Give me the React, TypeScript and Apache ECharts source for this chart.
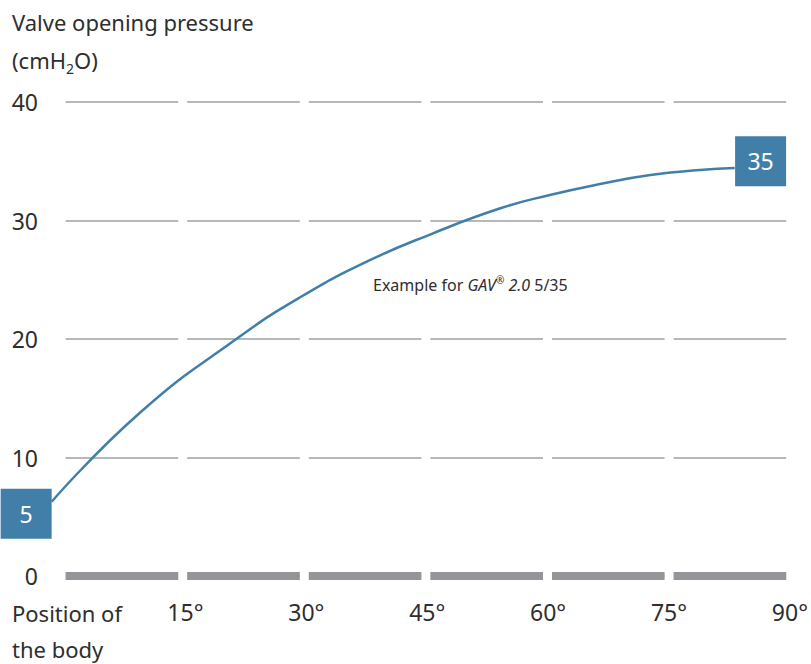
import React, { useEffect, useRef } from 'react';
import * as echarts from 'echarts';

const FONT = "'Noto Sans', sans-serif";
const BLUE = '#417fa8';
const TEXT = '#2e2e2e';
const GRID = '#b8b8b8';
const BASE = '#939598';

// axis ranges
const yMin = 0;
const yMax = 40;
const yStep = 10;
const xMin = 0;
const xMax = 90;
const xStep = 15;
// wider (hidden) angle range on the same scale, so the marks may run past 0° and 90°
const xMinWide = -7.5;
const xMaxWide = 92.5;

// curve (angle in degrees, pressure in cmH2O)
const curveAngle = [-1.15, 9.7, 21.8, 29.5, 37.7, 45.9, 54.2, 60.3, 66.5, 72.7, 78.8, 83.1];
const curvePressure = [6.27, 13.76, 20.08, 23.52, 26.52, 28.92, 31.03, 32.15, 33.08, 33.84, 34.26, 34.43];

// end-value boxes
const boxAngle = [-4.3, 86.3];
const boxPressure = [5, 35];

const yTitleLines = ['Valve opening pressure', '(cmH{sub|2}O)'];
const xTitleLines = ['Position of', 'the body'];
const noteText = 'Example for {i|GAV}{sup|®}{i| 2.0} 5/35';

export default function App() {
  const ref = useRef<HTMLDivElement>(null);

  useEffect(() => {
    if (!ref.current) return;
    const chart = echarts.init(ref.current, null, { renderer: 'svg' });
    const dash = [112.6, 9];
    const dashOffset = 112.6 + 4.5;

    const left = 61;
    const right = 20.4;
    const plotW = 811 - left - right;
    const pxPerDeg = plotW / (xMax - xMin);
    const leftWide = left + (xMinWide - xMin) * pxPerDeg;
    const rightWide = 811 - (left + (xMaxWide - xMin) * pxPerDeg);

    chart.setOption({
      animation: false,
      backgroundColor: '#ffffff',
      grid: [
        { left, right, top: 102, bottom: 88 },
        { left: leftWide, right: rightWide, top: 102, bottom: 88 },
      ],
      xAxis: [
        {
          type: 'value',
          gridIndex: 0,
          min: xMin,
          max: xMax,
          interval: xStep,
          axisLine: {
            show: true,
            onZero: false,
            lineStyle: { color: BASE, width: 8, type: dash, dashOffset, cap: 'butt' },
          },
          axisTick: { show: false },
          splitLine: { show: false },
          axisLabel: {
            formatter: (v: number) => (v === 0 ? '' : v + '°'),
            fontSize: 23,
            color: TEXT,
            fontFamily: FONT,
            margin: 24,
            padding: [0, 0, 0, 7],
          },
        },
        {
          type: 'value',
          gridIndex: 1,
          min: xMinWide,
          max: xMaxWide,
          show: false,
        },
      ],
      yAxis: [
        {
          type: 'value',
          gridIndex: 0,
          min: yMin,
          max: yMax,
          interval: yStep,
          axisLine: { show: false },
          axisTick: { show: false },
          axisLabel: { fontSize: 23, color: TEXT, fontFamily: FONT, margin: 23 },
          splitLine: {
            show: true,
            lineStyle: { color: GRID, width: 2, type: dash, dashOffset, cap: 'butt' },
          },
        },
        {
          type: 'value',
          gridIndex: 1,
          min: yMin,
          max: yMax,
          show: false,
        },
      ],
      series: [
        {
          type: 'line',
          xAxisIndex: 1,
          yAxisIndex: 1,
          data: curveAngle.map((a, i) => [a, curvePressure[i]]),
          showSymbol: false,
          smooth: 0.5,
          z: 3,
          lineStyle: { color: BLUE, width: 2.5 },
        },
        {
          type: 'scatter',
          xAxisIndex: 1,
          yAxisIndex: 1,
          z: 4,
          symbol: 'rect',
          symbolSize: [51, 50],
          data: boxAngle.map((a, i) => ({
            value: [a, boxPressure[i]],
            symbolOffset: i === 0 ? [0, -3] : [0, 0],
          })),
          itemStyle: { color: BLUE, opacity: 1 },
          label: {
            show: true,
            position: 'inside',
            formatter: (p: any) => String(p.value[1]),
            color: '#ffffff',
            fontSize: 23,
            fontFamily: FONT,
          },
          emphasis: { disabled: true },
        },
      ],
      graphic: [
        {
          type: 'text',
          x: 12,
          y: 22,
          style: {
            text: yTitleLines[0],
            fontSize: 22,
            fontFamily: FONT,
            fill: TEXT,
            verticalAlign: 'middle',
          },
        },
        {
          type: 'text',
          x: 12,
          y: 60,
          style: {
            text: yTitleLines[1],
            fontSize: 22,
            fontFamily: FONT,
            fill: TEXT,
            verticalAlign: 'middle',
            lineHeight: 30,
            rich: {
              sub: { fontSize: 14, fontFamily: FONT, fill: TEXT, padding: [16, 0, 0, 0], lineHeight: 14 },
            },
          },
        },
        {
          type: 'text',
          x: 12,
          y: 613,
          style: {
            text: xTitleLines[0],
            fontSize: 22,
            fontFamily: FONT,
            fill: TEXT,
            verticalAlign: 'middle',
          },
        },
        {
          type: 'text',
          x: 12,
          y: 649,
          style: {
            text: xTitleLines[1],
            fontSize: 22,
            fontFamily: FONT,
            fill: TEXT,
            verticalAlign: 'middle',
          },
        },
        {
          type: 'text',
          x: 373,
          y: 285,
          style: {
            text: noteText,
            fontSize: 16,
            fontFamily: FONT,
            fill: TEXT,
            verticalAlign: 'middle',
            lineHeight: 20,
            rich: {
              i: { fontSize: 16, fontFamily: FONT, fontStyle: 'italic', fill: TEXT },
              sup: { fontSize: 10, fontFamily: FONT, fill: TEXT, verticalAlign: 'top', lineHeight: 12 },
            },
          },
        },
      ],
    });

    return () => chart.dispose();
  }, []);

  return (
    <div
      ref={ref}
      style={{ position: 'absolute', left: 0, top: 0, width: 811, height: 664 }}
    />
  );
}
